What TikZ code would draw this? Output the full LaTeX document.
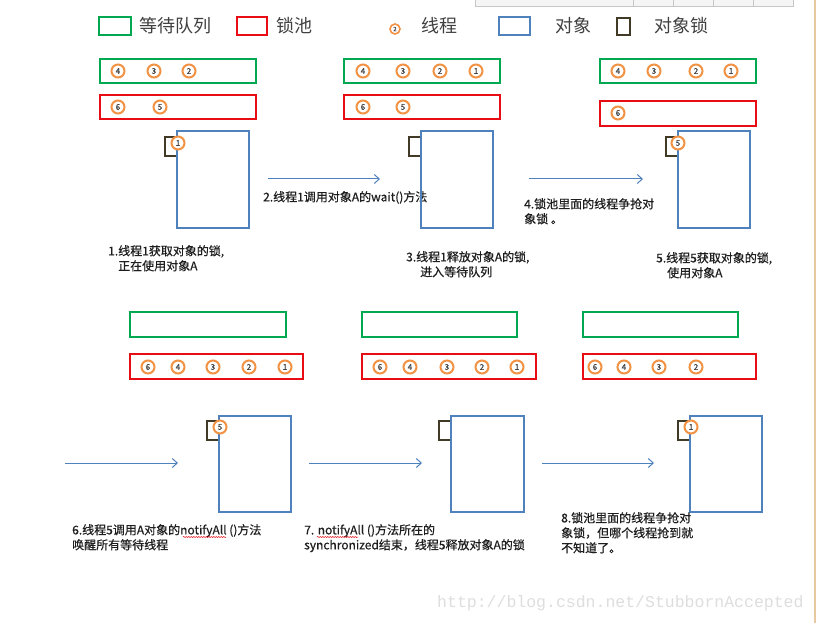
\documentclass[tikz,border=0pt]{standalone}
\usepackage{fontspec}
\setmainfont{Noto Sans CJK SC}
\newfontfamily\notefont{Noto Sans CJK SC}[FakeBold=0.5]
\newfontfamily\wmfont{Liberation Mono}
\usetikzlibrary{arrows.meta,decorations.pathmorphing}
\definecolor{qgreen}{RGB}{0,168,80}
\definecolor{qred}{RGB}{232,12,20}
\definecolor{qblue}{RGB}{79,129,189}
\definecolor{qlock}{RGB}{64,58,38}
\definecolor{qorange}{RGB}{242,146,68}
\definecolor{qtext}{RGB}{30,30,30}
\definecolor{qwm}{RGB}{222,222,222}
\definecolor{qedge}{RGB}{232,200,160}
\tikzset{
  box/.style={inner sep=0pt, outer sep=0pt, anchor=north west},
  waitq/.style={box, draw=qgreen, line width=2.8pt},
  pool/.style={box, draw=qred, line width=2.8pt},
  obj/.style={box, draw=qblue, line width=2.5pt},
  lock/.style={box, draw=qlock, line width=2.8pt, minimum width=12pt, minimum height=19pt},
  thr/.style={circle, draw=qorange, line width=2pt, fill=white, minimum size=13pt, inner sep=0pt, text=qtext!85, font=\notefont\fontsize{8}{8}\selectfont},
  flow/.style={draw=qblue, line width=1pt, -{Straight Barb[length=5pt,width=9pt,line width=1pt]}},
  note/.style={anchor=north west, inner sep=0pt, align=left, text=qtext, font=\notefont\fontsize{12}{15}\selectfont},
  legend/.style={anchor=west, inner sep=0pt, text=qtext!85, font=\fontsize{18}{18}\selectfont},
  spell/.style={draw=qred, line width=0.5pt, decorate, decoration={snake, segment length=2.5pt, amplitude=0.6pt}}
}
\begin{document}
\begin{tikzpicture}[x=1pt,y=-1pt]
\useasboundingbox (0,0) rectangle (817,623);
\fill[white] (0,0) rectangle (817,623);
% top strip (window chrome)
\fill[gray!8] (475,-2) rectangle (793,6);
\draw[gray!45, line width=0.8pt] (475,-2) -- (475,6) -- (793,6) -- (793,-2);
\foreach \xx in {633,673,713,753} \draw[gray!45, line width=0.8pt] (\xx,-2) -- (\xx,6);
% right edge line
\draw[qedge, line width=1.5pt] (815,0) -- (815,623);

% legend
\node[waitq, minimum width=32pt, minimum height=18pt] (lgq) at (99,17) {};
\node[legend] (lgqt) at (139,26) {等待队列};
\node[pool, minimum width=30pt, minimum height=18pt] (lgp) at (237,17) {};
\node[legend] (lgpt) at (276,26) {锁池};
\node[thr, minimum size=10pt, line width=1.6pt, font=\notefont\fontsize{6}{6}\selectfont] (lgc) at (395,29) {2};
\node[legend] (lgct) at (421,26) {线程};
\node[obj, minimum width=31pt, minimum height=18pt] (lgo) at (499,17) {};
\node[legend] (lgot) at (555,26) {对象};
\node[box, draw=qlock, line width=2.8pt, minimum width=13pt, minimum height=17pt] (lgl) at (617,18) {};
\node[legend] (lglt) at (654,26) {对象锁};

% ---------- panel 1
\node[waitq, minimum width=156pt, minimum height=24pt] (q1) at (100,59) {};
\node[pool, minimum width=156pt, minimum height=24pt] (p1) at (100,95) {};
\node[lock] (l1) at (165,137) {};
\node[obj, minimum width=72pt, minimum height=97pt] (o1) at (177,131) {};
\node[thr] (q1a) at (118,71) {4};
\node[thr] (q1b) at (154,71) {3};
\node[thr] (q1c) at (189,71) {2};
\node[thr] (p1a) at (118,107) {6};
\node[thr] (p1b) at (160,107) {5};
\node[thr] (h1) at (178,143) {1};
\node[note] (n1) at (108,245) {1.线程1获取对象的锁,\\\hspace*{10pt}正在使用对象A};

\coordinate (a1s) at (268,179);
\coordinate (a1e) at (380,179);
\draw[flow] (a1s) -- (a1e);
\node[note] (n2) at (263,191) {2.线程1调用对象A的wait()方法};

% ---------- panel 2
\node[waitq, minimum width=156pt, minimum height=24pt] (q2) at (344,59) {};
\node[pool, minimum width=156pt, minimum height=24pt] (p2) at (344,95) {};
\node[lock] (l2) at (409,137) {};
\node[obj, minimum width=72pt, minimum height=97pt] (o2) at (421,131) {};
\node[thr] (q2a) at (363,71) {4};
\node[thr] (q2b) at (403,71) {3};
\node[thr] (q2c) at (440,71) {2};
\node[thr] (q2d) at (476,71) {1};
\node[thr] (p2a) at (363,107) {6};
\node[thr] (p2b) at (403,107) {5};
\node[note] (n3) at (406,251) {3.线程1释放对象A的锁,\\\hspace*{14pt}进入等待队列};

\coordinate (a2s) at (529,179);
\coordinate (a2e) at (643,179);
\draw[flow] (a2s) -- (a2e);
\node[note] (n4) at (524,198) {4.锁池里面的线程争抢对\\象锁 。};

% ---------- panel 3
\node[waitq, minimum width=156pt, minimum height=24pt] (q3) at (600,59) {};
\node[pool, minimum width=156pt, minimum height=25pt] (p3) at (600,101) {};
\node[lock] (l3) at (666,137) {};
\node[obj, minimum width=72pt, minimum height=97pt] (o3) at (678,131) {};
\node[thr] (q3a) at (618,71) {4};
\node[thr] (q3b) at (654,71) {3};
\node[thr] (q3c) at (696,71) {2};
\node[thr] (q3d) at (731,71) {1};
\node[thr] (p3a) at (618,113) {6};
\node[thr] (h3) at (678,143) {5};
\node[note] (n5) at (656,252) {5.线程5获取对象的锁,\\\hspace*{11pt}使用对象A};

% ---------- panel 4
\coordinate (a3s) at (65,463);
\coordinate (a3e) at (178,463);
\draw[flow] (a3s) -- (a3e);
\node[waitq, minimum width=156pt, minimum height=25pt] (q4) at (130,312) {};
\node[pool, minimum width=173pt, minimum height=25pt] (p4) at (130,354) {};
\node[lock] (l4) at (207,421) {};
\node[obj, minimum width=72pt, minimum height=96pt] (o4) at (219,416) {};
\node[thr] (p4a) at (148,367) {6};
\node[thr] (p4b) at (178,367) {4};
\node[thr] (p4c) at (213,367) {3};
\node[thr] (p4d) at (249,367) {2};
\node[thr] (p4e) at (285,367) {1};
\node[thr] (h4) at (220,427) {5};
\node[note] (n6) at (72,524) {6.线程5调用A对象的notifyAll ()方法\\唤醒所有等待线程};
\draw[spell] (183,537) -- (226,537);

% ---------- panel 5
\coordinate (a4s) at (309,463);
\coordinate (a4e) at (422,463);
\draw[flow] (a4s) -- (a4e);
\node[waitq, minimum width=155pt, minimum height=25pt] (q5) at (362,312) {};
\node[pool, minimum width=174pt, minimum height=25pt] (p5) at (362,354) {};
\node[lock] (l5) at (439,421) {};
\node[obj, minimum width=73pt, minimum height=96pt] (o5) at (451,416) {};
\node[thr] (p5a) at (380,367) {6};
\node[thr] (p5b) at (410,367) {4};
\node[thr] (p5c) at (447,367) {3};
\node[thr] (p5d) at (482,367) {2};
\node[thr] (p5e) at (517,367) {1};
\node[note] (n7) at (304,524) {7. notifyAll ()方法所在的\\synchronized结束，线程5释放对象A的锁};
\draw[spell] (317,537) -- (358,537);

% ---------- panel 6
\coordinate (a5s) at (542,463);
\coordinate (a5e) at (654,463);
\draw[flow] (a5s) -- (a5e);
\node[waitq, minimum width=155pt, minimum height=25pt] (q6) at (583,312) {};
\node[pool, minimum width=173pt, minimum height=25pt] (p6) at (583,354) {};
\node[lock] (l6) at (678,421) {};
\node[obj, minimum width=72pt, minimum height=96pt] (o6) at (690,416) {};
\node[thr] (p6a) at (595,367) {6};
\node[thr] (p6b) at (624,367) {4};
\node[thr] (p6c) at (659,367) {3};
\node[thr] (p6d) at (696,367) {2};
\node[thr] (h6) at (691,427) {1};
\node[note] (n8) at (561,512) {8.锁池里面的线程争抢对\\象锁，但哪个线程抢到就\\不知道了。};

% watermark
\node[anchor=west, inner sep=0pt, text=qwm, font=\wmfont\fontsize{16.5}{16.5}\selectfont] (wm) at (437,603) {http://blog.csdn.net/StubbornAccepted};
\end{tikzpicture}
\end{document}
